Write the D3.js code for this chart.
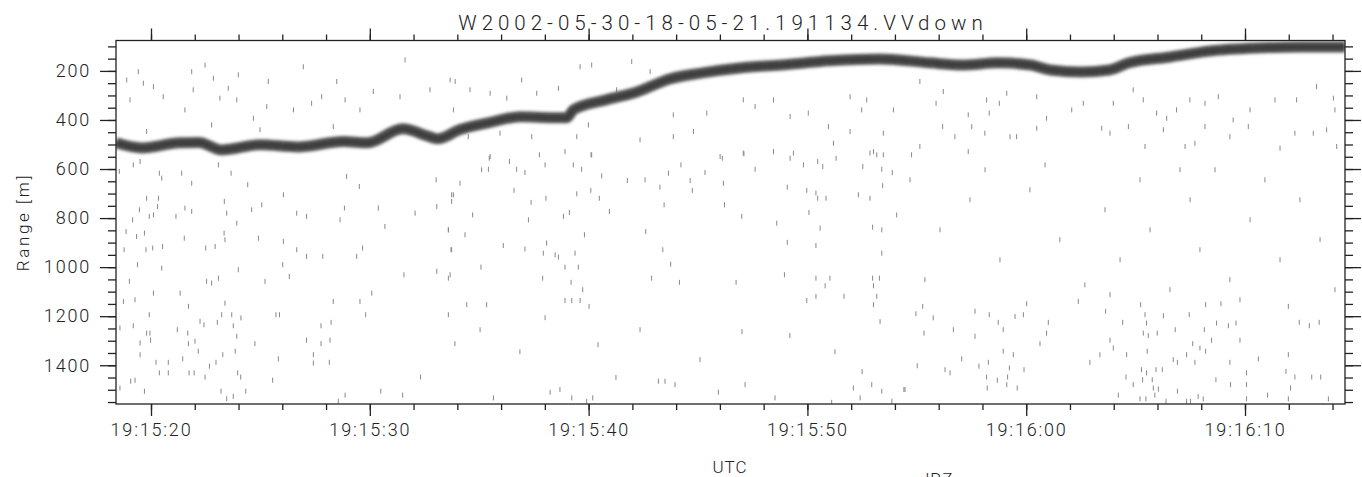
<!DOCTYPE html>
<html>
<head>
<meta charset="utf-8">
<script src="https://cdn.jsdelivr.net/npm/d3@7"></script>
<style>
  body { margin: 0; background: #fff; }
  svg text { font-family: Roboto, "DejaVu Sans", sans-serif; font-weight: 300; fill: #222; }
</style>
</head>
<body>
<div id="chart"></div>
<script>
// seconds after 19:15:00 UTC, 2002-05-30
var titleText = 'W2002-05-30-18-05-21.191134.VVdown';
var timeTickLabels = ['19:15:20', '19:15:30', '19:15:40', '19:15:50', '19:16:00', '19:16:10'];
var rangeTickLabels = [200, 400, 600, 800, 1000, 1200, 1400];
var timeDomain = [18.4, 74.57];
var rangeDomain = [76, 1558];

// backscatter maximum (the dark band): time [s], range [m]
var bandT = [18.4, 19.6, 21.3, 22.2, 23.2, 25.0, 26.7, 28.8, 29.9, 31.5, 32.75, 33.1, 34.1, 35.4,
  36.9, 38.4, 39.0, 39.3, 40.8, 42.2, 43.7, 45.2, 46.9, 48.8, 51.0, 53.3, 55.6, 57.1, 58.7,
  60.2, 61.1, 62.5, 63.8, 64.7, 66.6, 68.4, 70.8, 72.5, 74.57];
var bandR = [493, 514, 493, 492, 522, 501, 510, 488, 493, 436, 469, 477, 440, 412,
  387, 391, 391, 359, 318, 286, 233, 208, 188, 176, 159, 151, 167, 176, 167,
  176, 196, 204, 196, 167, 143, 119, 106, 102, 102];

// isolated noise returns: [time s, range m]
var speckles = [
  [18.55,610],[19.19,583],[19.50,569],[20.38,617],[20.49,637],[21.40,617],[21.86,658],[23.08,583],[23.66,617],[24.42,664],
  [26.05,705],[28.94,630],[29.52,671],[33.03,644],[33.74,705],[19.80,719],[20.34,719],[19.47,766],[20.30,753],[21.55,759],
  [21.86,773],[23.35,732],[23.46,780],[24.60,766],[25.06,746],[26.66,780],[27.11,793],[28.84,759],[30.39,759],[32.07,780],
  [33.06,753],[19.16,807],[19.92,793],[20.11,787],[21.14,793],[23.92,821],[28.64,807],[30.69,834],[33.59,848],[18.86,855],
  [19.34,875],[19.70,861],[21.52,882],[23.34,861],[23.38,888],[24.91,882],[26.05,895],[29.67,922],[33.74,929],[18.77,929],
  [19.77,929],[20.08,922],[20.53,916],[22.50,922],[22.93,916],[26.66,929],[27.11,956],[27.85,956],[29.40,956],[19.38,990],
  [20.49,1004],[23.99,1011],[26.02,990],[33.06,1017],[31.56,1031],[33.67,1031],[19.01,1058],[20.11,1106],[21.33,1106],[22.54,1058],
  [22.77,1065],[23.08,1045],[25.21,1058],[26.32,1038],[30.09,1106],[18.74,1140],[19.27,1133],[21.71,1160],[23.38,1147],[28.33,1140],
  [29.55,1140],[19.92,1194],[22.24,1221],[23.23,1194],[23.69,1194],[24.11,1207],[25.71,1194],[25.87,1194],[29.81,1194],[33.59,1194],
  [18.58,1248],[19.19,1239],[21.20,1255],[21.68,1269],[22.42,1235],[23.03,1225],[23.76,1239],[27.77,1239],[28.23,1225],[19.80,1269],
  [19.95,1269],[19.50,1309],[19.98,1298],[22.01,1302],[21.71,1312],[23.92,1282],[24.75,1312],[27.11,1298],[27.77,1312],[28.18,1298],
  [33.89,1312],[19.50,1357],[21.45,1374],[22.16,1343],[23.28,1357],[23.85,1343],[25.82,1374],[27.42,1357],[27.42,1391],[28.15,1388],
  [20.23,1388],[20.79,1388],[20.38,1431],[20.79,1431],[21.74,1431],[21.97,1431],[22.67,1404],[22.97,1388],[22.47,1448],[23.96,1431],
  [24.10,1448],[25.56,1461],[32.32,1448],[18.58,1493],[19.07,1465],[19.27,1461],[19.70,1506],[23.20,1506],[23.46,1536],[23.76,1527],
  [24.33,1506],[28.87,1522],[30.50,1506],[31.50,1522],[28.56,1547],
  [35.46,556],[37.75,542],[40.11,542],[35.11,603],[35.42,601],[36.38,569],[36.71,601],[37.09,614],[38.01,583],[39.30,583],
  [39.68,601],[40.60,628],[41.77,647],[42.58,644],[44.22,583],[43.65,617],[45.32,614],[44.64,647],[46.11,556],[47.10,538],
  [47.61,601],[48.45,529],[49.21,556],[49.82,583],[50.47,569],[50.70,590],[51.31,556],[52.53,590],[53.40,601],[53.88,614],
  [53.02,529],[34.12,658],[36.59,687],[33.82,705],[33.74,732],[37.37,736],[38.05,719],[39.46,701],[40.10,687],[40.49,719],
  [43.26,674],[44.74,687],[46.16,658],[46.21,746],[49.08,674],[49.97,687],[50.39,698],[50.47,719],[50.85,719],[52.33,705],
  [52.86,719],[53.44,668],[34.70,787],[37.25,807],[38.85,793],[39.12,777],[40.95,773],[43.45,746],[47.00,793],[48.60,821],
  [50.07,777],[54.08,787],[33.59,848],[34.35,868],[39.81,868],[42.61,855],[50.58,841],[52.98,837],[53.40,848],[36.10,912],
  [37.09,926],[38.08,902],[37.93,943],[38.47,950],[38.62,959],[39.38,943],[33.71,929],[43.39,929],[49.08,899],[50.39,912],
  [53.40,943],[35.08,1000],[38.92,1000],[39.53,1000],[43.75,988],[33.59,1045],[37.90,1045],[39.20,1062],[39.73,1092],[42.88,1045],
  [44.15,1062],[46.74,1062],[48.95,1031],[50.39,1045],[51.03,1045],[52.98,1045],[53.29,1045],[50.81,1076],[53.02,1076],[34.43,1153],
  [35.34,1153],[38.92,1136],[39.23,1136],[39.61,1136],[40.02,1160],[49.97,1136],[50.39,1119],[51.67,1119],[53.17,1119],[53.02,1153],
  [54.96,1190],[55.27,1160],[55.75,1207],[55.33,1269],[56.67,1255],[57.66,1180],[58.31,1194],[58.72,1225],[58.95,1255],[59.49,1201],
  [59.87,1194],[61.01,1225],[60.02,1149],[60.93,1269],[60.63,1312],[62.38,1140],[63.63,1180],[64.41,1225],[65.23,1153],[65.43,1194],
  [65.50,1228],[65.35,1269],[65.58,1279],[65.99,1269],[66.27,1198],[66.81,1255],[67.45,1194],[68.20,1153],[68.90,1149],[68.70,1228],
  [69.24,1239],[69.59,1228],[68.14,1255],[68.47,1298],[69.77,1298],[71.98,1160],[72.48,1225],[72.94,1239],[73.39,1225],[63.83,1298],
  [63.98,1330],[63.37,1357],[62.91,1388],[64.59,1357],[65.53,1343],[66.72,1377],[66.91,1388],[67.33,1357],[67.61,1312],[67.71,1388],
  [67.94,1330],[68.20,1343],[69.31,1388],[70.61,1374],[71.98,1357],[58.95,1343],[59.41,1357],[57.05,1374],[58.27,1388],[55.02,1402],
  [56.29,1418],[56.52,1431],[57.84,1404],[59.23,1411],[59.90,1418],[57.66,1282],[54.41,1499],[58.22,1493],[58.68,1461],[59.11,1479],
  [59.59,1493],[59.15,1448],[58.19,1448],[64.56,1448],[64.89,1479],[65.27,1418],[65.32,1459],[65.50,1431],[65.76,1459],[65.93,1418],
  [66.22,1418],[65.81,1493],[66.04,1497],[64.21,1522],[65.20,1537],[65.47,1537],[65.88,1522],[66.39,1547],[66.91,1506],[67.33,1547],
  [67.51,1547],[67.86,1527],[68.09,1537],[68.67,1459],[70.07,1431],[70.07,1479],[70.07,1537],[71.03,1522],[71.87,1425],[72.28,1448],
  [72.08,1493],[73.05,1448],[73.46,1448],[71.98,1537],[73.81,1537],[69.34,1479],
  [55.14,243],[55.88,332],[56.21,284],[57.35,379],[58.19,318],[58.31,372],[58.77,332],[59.11,291],[60.48,305],[60.93,393],
  [62.61,332],[63.98,332],[64.89,277],[65.35,318],[65.96,372],[66.42,393],[66.87,359],[67.48,318],[68.17,332],[68.78,305],
  [69.46,400],[70.23,359],[71.37,318],[72.36,318],[73.27,264],[74.04,311],[74.11,359],[74.19,508],[56.18,427],[56.74,468],
  [57.51,427],[58.11,454],[59.26,468],[59.56,468],[60.48,434],[62.08,359],[63.45,434],[63.83,454],[64.67,427],[65.43,508],
  [66.27,440],[67.26,508],[67.71,495],[68.17,427],[69.31,468],[70.15,427],[71.60,515],[72.28,454],[73.12,454],[73.73,440],
  [55.14,508],[54.76,542],[57.35,529],
  [18.89,237],[19.42,203],[19.65,250],[20.11,264],[20.56,305],[21.55,359],[21.86,203],[21.93,277],[22.47,176],[22.85,230],
  [23.15,311],[23.53,271],[23.92,318],[23.99,216],[24.68,393],[25.29,345],[25.36,243],[26.51,359],[26.96,183],[27.34,332],
  [27.80,305],[28.49,243],[28.87,318],[29.55,359],[30.16,284],[31.38,305],[31.61,155],[32.75,277],[33.67,237],[33.82,359],
  [19.80,447],[22.77,420],[24.98,440],[28.33,427],[19.04,318],
  [33.90,243],[34.58,277],[35.50,291],[36.26,311],[36.94,237],[37.63,291],[38.62,271],[39.61,183],[40.14,176],[40.68,318],
  [41.28,277],[41.97,162],[42.81,203],[39.38,359],[39.99,420],[34.50,468],[35.95,454],[37.40,468],[39.46,468],[42.35,481],
  [43.87,379],[45.40,372],[43.87,468],[44.79,447],[47.07,318],[47.61,345],[49.21,386],[48.45,318],[50.04,372],[50.96,427],
  [51.95,305],[52.48,359],[53.47,454],[53.93,359],[35.50,549],[38.92,529],[40.14,542],[46.01,549],[47.07,535],[48.45,529],
  [49.36,535],[51.19,495],[51.95,447],[52.86,535],[53.17,542],[53.47,542],[52.71,318],
  [35.65,1533],[38.24,1510],[39.23,1533],[39.91,1547],[40.19,1533],[43.19,1465],[43.49,1465],[45.93,1510],[47.15,1479],[48.52,1533],
  [51.11,1551],[52.10,1493],[52.41,1533],[52.94,1479],[53.40,1506],[53.86,1547],[54.46,1499],
  [35.04,1255],[36.86,1345],[38.01,1206],[40.43,1316],[41.25,1450],[42.35,1255],[45.09,1377],[47.01,1263],[49.20,1279],[51.26,1345],
  [52.50,1426],[53.32,1222],[38.69,1499],[43.95,1479],
  [54.69,644],[56.06,848],[57.43,725],[58.80,970],[60.17,685],[61.54,888],[62.68,1072],[63.60,766],[64.29,970],[65.20,644],
  [65.66,848],[66.57,1092],[67.49,725],[67.94,929],[68.63,603],[69.31,1051],[70.23,807],[70.91,644],[71.60,970],[72.51,725],
  [73.43,888],[74.11,1092],[55.37,1051],[58.12,603],[60.86,583],[63.83,1112],[67.03,603],[69.77,1133]
];

var width = 1362, height = 477;
var margin = {top: 40.5, right: 17, bottom: 73, left: 116};
var w = width - margin.left - margin.right;
var h = height - margin.top - margin.bottom;

var t0 = Date.UTC(2002, 4, 30, 19, 15, 0);
function toDate(s) { return new Date(t0 + s * 1000); }
function parseLabel(lbl) {
  var p = lbl.split(':').map(Number);
  return new Date(Date.UTC(2002, 4, 30, p[0], p[1], p[2]));
}

var x = d3.scaleUtc().domain(timeDomain.map(toDate)).range([0, w]);
var y = d3.scaleLinear().domain(rangeDomain).range([0, h]);

var svg = d3.select('#chart').append('svg')
  .attr('width', width)
  .attr('height', height);

var defs = svg.append('defs');
defs.append('clipPath').attr('id', 'plotclip')
  .append('rect').attr('width', w).attr('height', h);
defs.append('filter').attr('id', 'soft')
  .attr('x', '-5%').attr('y', '-50%').attr('width', '110%').attr('height', '200%')
  .append('feGaussianBlur').attr('stdDeviation', 1.8);
defs.append('filter').attr('id', 'speck')
  .attr('x', '-200%').attr('y', '-50%').attr('width', '500%').attr('height', '200%')
  .append('feGaussianBlur').attr('stdDeviation', 0.35);

var g = svg.append('g').attr('transform', 'translate(' + margin.left + ',' + margin.top + ')');
var plot = g.append('g').attr('clip-path', 'url(#plotclip)');

// noise
plot.append('g').attr('filter', 'url(#speck)').selectAll('rect')
  .data(speckles)
  .enter().append('rect')
  .attr('x', function(d) { return x(toDate(d[0])) - 0.5; })
  .attr('y', function(d) { return y(d[1]) - 2.5; })
  .attr('width', 1)
  .attr('height', 5)
  .attr('fill', '#888');

// band
var band = d3.zip(bandT, bandR);
var line = d3.line()
  .x(function(d) { return x(toDate(d[0])); })
  .y(function(d) { return y(d[1]); })
  .curve(d3.curveMonotoneX);

plot.append('path')
  .datum(band)
  .attr('d', line)
  .attr('fill', 'none')
  .attr('stroke', '#555')
  .attr('stroke-width', 11)
  .attr('filter', 'url(#soft)');
plot.append('path')
  .datum(band)
  .attr('d', line)
  .attr('fill', 'none')
  .attr('stroke', '#222')
  .attr('stroke-opacity', 0.5)
  .attr('stroke-width', 5)
  .attr('filter', 'url(#soft)');

// axes
var majorT = timeTickLabels.map(parseLabel);
var minorT = d3.utcSecond.every(2).range(x.domain()[0], x.domain()[1]);
var majorR = rangeTickLabels;
var minorR = d3.range(100, rangeDomain[1], 50);

function styleAxis(sel) {
  sel.select('.domain').remove();
  sel.selectAll('line').attr('stroke', '#222').attr('stroke-width', 1.3);
  sel.selectAll('text')
    .style('font-family', 'Roboto, "DejaVu Sans", sans-serif')
    .style('font-weight', '300')
    .style('font-size', '18px')
    .style('letter-spacing', '1.8px')
    .attr('fill', '#222');
}

var fmtT = d3.utcFormat('%H:%M:%S');

g.append('g').attr('transform', 'translate(0,' + h + ')')
  .call(d3.axisBottom(x).tickValues(minorT).tickSize(6).tickFormat(''))
  .call(styleAxis);
g.append('g').attr('transform', 'translate(0,' + h + ')')
  .call(d3.axisBottom(x).tickValues(majorT).tickSize(12).tickPadding(7).tickFormat(fmtT))
  .call(styleAxis);
g.append('g')
  .call(d3.axisTop(x).tickValues(minorT).tickSize(6).tickFormat(''))
  .call(styleAxis);
g.append('g')
  .call(d3.axisTop(x).tickValues(majorT).tickSize(12).tickFormat(''))
  .call(styleAxis);

g.append('g')
  .call(d3.axisLeft(y).tickValues(minorR).tickSize(8).tickFormat(''))
  .call(styleAxis);
g.append('g')
  .call(d3.axisLeft(y).tickValues(majorR).tickSize(16).tickPadding(9).tickFormat(d3.format('d')))
  .call(styleAxis);
g.append('g').attr('transform', 'translate(' + w + ',0)')
  .call(d3.axisRight(y).tickValues(minorR).tickSize(8).tickFormat(''))
  .call(styleAxis);
g.append('g').attr('transform', 'translate(' + w + ',0)')
  .call(d3.axisRight(y).tickValues(majorR).tickSize(16).tickFormat(''))
  .call(styleAxis);

g.append('rect')
  .attr('width', w).attr('height', h)
  .attr('fill', 'none')
  .attr('stroke', '#222')
  .attr('stroke-width', 1.3);

// titles
svg.append('text')
  .attr('x', 723).attr('y', 30)
  .attr('text-anchor', 'middle')
  .style('font-size', '20.5px')
  .style('letter-spacing', '5px')
  .text(titleText);

svg.append('text')
  .attr('transform', 'translate(29,222) rotate(-90)')
  .attr('text-anchor', 'middle')
  .style('font-size', '17px')
  .style('letter-spacing', '2.6px')
  .text('Range [m]');

svg.append('text')
  .attr('x', 730).attr('y', 473)
  .attr('text-anchor', 'middle')
  .style('font-size', '17px')
  .style('letter-spacing', '1px')
  .text('UTC');

svg.append('text')
  .attr('x', 920).attr('y', 485)
  .style('font-size', '17px')
  .style('letter-spacing', '1px')
  .text('JRZ');
</script>
</body>
</html>
